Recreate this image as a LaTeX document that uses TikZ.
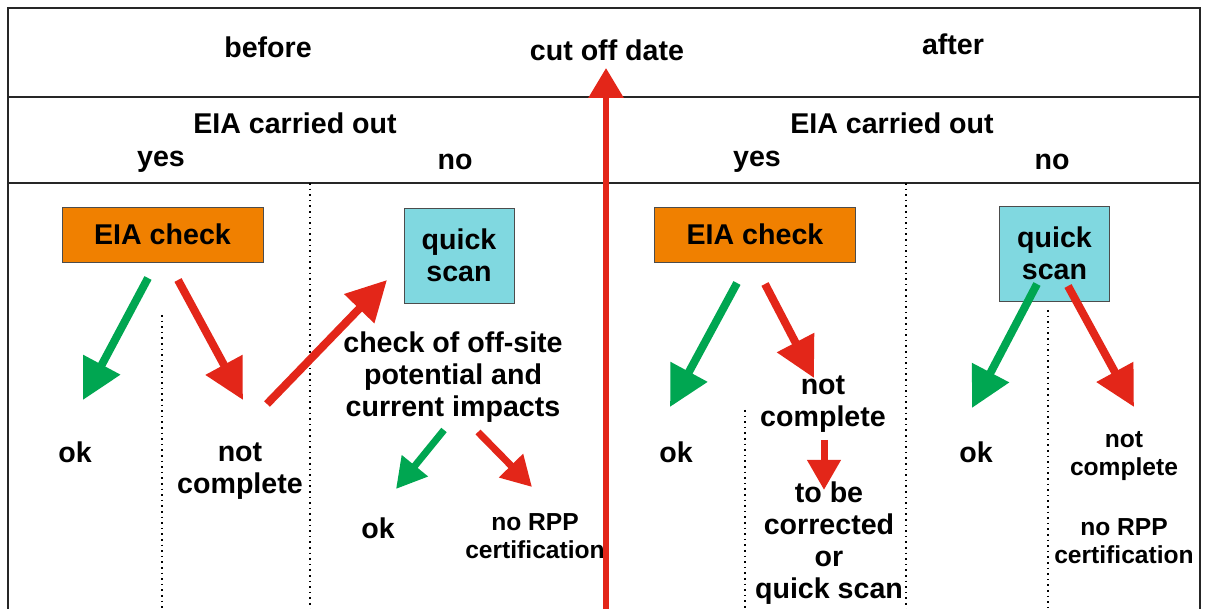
\documentclass[tikz,border=0pt]{standalone}
\usepackage{fontspec}
\setmainfont{Liberation Sans}
\usetikzlibrary{arrows.meta}
\definecolor{eiaorange}{RGB}{240,128,0}
\definecolor{scancyan}{RGB}{128,216,224}
\definecolor{okgreen}{RGB}{0,166,81}
\definecolor{badred}{RGB}{227,38,25}
\tikzset{
	lbl/.style={font=\fontsize{14.3}{16}\selectfont\bfseries, align=center, inner sep=0pt},
	smalllbl/.style={font=\fontsize{12.3}{13.8}\selectfont\bfseries, align=center, inner sep=0pt},
	eiabox/.style={draw=black!70, fill=eiaorange, minimum width=100.5pt, minimum height=27.5pt, lbl},
	scanbox/.style={draw=black!70, fill=scancyan, minimum width=55pt, minimum height=47.5pt, lbl},
	okarrow/.style={draw=okgreen, line width=4pt, -{Triangle[length=20pt,width=20pt]}},
	badarrow/.style={draw=badred, line width=4pt, -{Triangle[length=20pt,width=20pt]}},
	okarrowsm/.style={draw=okgreen, line width=3.5pt, -{Triangle[length=15pt,width=16pt]}},
	badarrowsm/.style={draw=badred, line width=3.5pt, -{Triangle[length=15pt,width=16pt]}},
	frame/.style={line width=1pt, black!85},
	sep/.style={dotted, line width=0.8pt}
}
\begin{document}
\begin{tikzpicture}[x=0.5pt, y=-0.5pt]
	%%%%% START %%%%%
	\useasboundingbox (0,0) rectangle (1206,609);
	
	% frame and rows
	\draw[frame] (8,609) -- (8,8) -- (1200,8) -- (1200,609);
	\draw[frame] (8,97) -- (1200,97);
	\draw[frame] (8,183) -- (1200,183);
	
	% dotted separators
	\draw[sep] (310,183) -- (310,609);
	\draw[sep] (162,315) -- (162,609);
	\draw[sep] (906,183) -- (906,609);
	\draw[sep] (745,410) -- (745,609);
	\draw[sep] (1048,310) -- (1048,609);
	
	% cut off date
	\coordinate (cutbase) at (606,609);
	\coordinate (cuttip) at (606,68);
	\draw[draw=badred, line width=3pt, -{Triangle[length=15pt,width=17pt]}] (cutbase) -- (cuttip);
	
	\node[lbl] (before) at (268,47) {before};
	\node[lbl] (cutoff) at (607,50) {cut off date};
	\node[lbl] (after) at (953,44) {after};
	
	\node[lbl] (eiaL) at (295,123) {EIA carried out};
	\node[lbl] (eiaR) at (892,123) {EIA carried out};
	\node[lbl] (yesL) at (161,162) {yes};
	\node[lbl] (noL) at (455,162) {no};
	\node[lbl] (yesR) at (757,162) {yes};
	\node[lbl] (noR) at (1052,162) {no};
	
	% before: boxes and results
	\node[eiabox] (checkL) at (162.5,234.5) {EIA check};
	\node[scanbox] (scanL) at (459,255.5) {quick\\scan};
	\node[lbl] (okL) at (75,452) {ok};
	\node[lbl] (notL) at (240,471) {not\\complete};
	\node[lbl] (offsite) at (453,377) {check of off-site\\potential and\\current impacts};
	\node[lbl] (okscanL) at (378,528) {ok};
	\node[smalllbl] (norppL) at (535,536) {no RPP\\certification};
	
	\coordinate (a1) at (148,278); \coordinate (a1t) at (83,400);
	\coordinate (a2) at (178,280); \coordinate (a2t) at (243,400);
	\coordinate (a3) at (267,404); \coordinate (a3t) at (387,280);
	\coordinate (a4) at (444,430); \coordinate (a4t) at (396,489);
	\coordinate (a5) at (478,432); \coordinate (a5t) at (532,487);
	\draw[okarrow] (a1) -- (a1t);
	\draw[badarrow] (a2) -- (a2t);
	\draw[badarrow] (a3) -- (a3t);
	\draw[okarrowsm] (a4) -- (a4t);
	\draw[badarrowsm] (a5) -- (a5t);
	
	% after: boxes and results
	\node[eiabox] (checkR) at (755,234.5) {EIA check};
	\node[scanbox] (scanR) at (1054.5,253.5) {quick\\scan};
	\node[lbl] (okR) at (676,452) {ok};
	\node[lbl] (notR) at (823,404) {not\\complete};
	\node[lbl] (tobe) at (829,543) {to be\\corrected\\or\\quick scan};
	\node[lbl] (okscanR) at (976,452) {ok};
	\node[smalllbl] (notscanR) at (1124,456) {not\\complete};
	\node[smalllbl] (norppR) at (1124,541) {no RPP\\certification};
	
	\coordinate (b1) at (737,283); \coordinate (b1t) at (670,407);
	\coordinate (b2) at (765,284); \coordinate (b2t) at (814,378);
	\coordinate (b3) at (824,440); \coordinate (b3t) at (824,490);
	\coordinate (b4) at (1037,284); \coordinate (b4t) at (972,408);
	\coordinate (b5) at (1068,286); \coordinate (b5t) at (1134,407);
	\draw[okarrow] (b1) -- (b1t);
	\draw[badarrow] (b2) -- (b2t);
	\draw[badarrowsm] (b3) -- (b3t);
	\draw[okarrow] (b4) -- (b4t);
	\draw[badarrow] (b5) -- (b5t);
	%%%%% END %%%%%
\end{tikzpicture}
\end{document}
